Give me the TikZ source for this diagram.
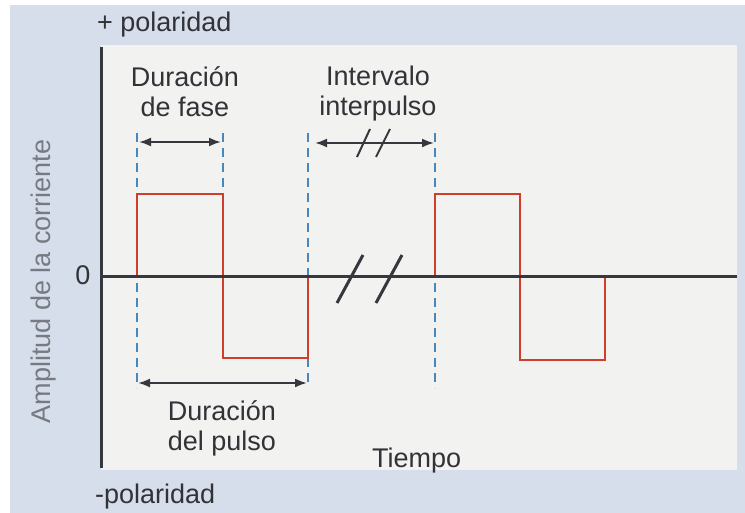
\documentclass[tikz,border=0pt]{standalone}
\usepackage{fontspec}
\setmainfont{Liberation Sans}
\usetikzlibrary{arrows.meta}
\definecolor{outerbg}{RGB}{214,222,235}
\definecolor{panelc}{RGB}{242,242,241}
\definecolor{axisc}{RGB}{55,55,62}
\definecolor{pulsec}{RGB}{205,62,45}
\definecolor{dashc}{RGB}{70,135,190}
\definecolor{txtc}{RGB}{50,50,55}
\definecolor{ylabc}{RGB}{120,122,130}
\begin{document}
\begin{tikzpicture}[x=1pt,y=-1pt,
  lbl/.style={font=\fontsize{27}{30}\selectfont, text=txtc, inner sep=0pt},
  axisline/.style={draw=axisc, line width=3pt},
  pulse/.style={draw=pulsec, line width=2.5pt, line join=miter},
  guide/.style={draw=dashc, line width=1.5pt, dash pattern=on 9pt off 6pt},
  dimarrow/.style={draw=axisc, line width=2pt, {Latex[length=12pt,width=9pt]}-{Latex[length=12pt,width=9pt]}},
  brk/.style={draw=axisc, line width=3pt},
  brksmall/.style={draw=axisc, line width=2pt}]
\useasboundingbox (0,0) rectangle (745,513);
\fill[white] (0,0) rectangle (745,513);
\fill[outerbg] (10,5) rectangle (745,513);
\fill[panelc] (101,45) rectangle (737,470);
% guide lines
\coordinate (g1t) at (137,133); \coordinate (g1b) at (137,388);
\coordinate (g2t) at (223,133); \coordinate (g2b) at (223,194);
\coordinate (g3t) at (308,133); \coordinate (g3b) at (308,385);
\coordinate (g4t) at (435,133); \coordinate (g4b) at (435,388);
\draw[guide] (g1t) -- (g1b);
\draw[guide] (g2t) -- (g2b);
\draw[guide] (g3t) -- (g3b);
\draw[guide] (g4t) -- (g4b);
% pulses
\draw[pulse] (137,277) -- (137,194) -- (223,194) -- (223,358) -- (308,358) -- (308,277);
\draw[pulse] (435,277) -- (435,194) -- (520,194) -- (520,360) -- (605,360) -- (605,277);
% axes
\coordinate (yt) at (101,47); \coordinate (yb) at (101,468);
\coordinate (xl) at (101,277); \coordinate (xr) at (737,277);
\draw[axisline] (yt) -- (yb);
\draw[axisline] (xl) -- (xr);
% axis break
\draw[brk] (363,255) -- (337,303);
\draw[brk] (402,255) -- (376,303);
% dimension arrows
\coordinate (fa) at (139,142); \coordinate (fb) at (221,142);
\draw[dimarrow] (fa) -- (fb);
\coordinate (ia) at (315,143); \coordinate (ib) at (434,143);
\draw[dimarrow] (ia) -- (ib);
\draw[brksmall] (370,129) -- (357,157);
\draw[brksmall] (390,129) -- (376,157);
\coordinate (pa) at (138,383); \coordinate (pb) at (307,383);
\draw[dimarrow] (pa) -- (pb);
% texts
\node[lbl, anchor=base west] (pospol) at (97,32) {+ polaridad};
\node[lbl, anchor=base west] (negpol) at (95,503) {-polaridad};
\node[lbl, anchor=base, align=center] (fase) at (185,117) {Duración\\de fase};
\node[lbl, anchor=base, align=center] (inter) at (378,116) {Intervalo\\interpulso};
\node[lbl, anchor=base, align=center] (pulso) at (222,450) {Duración\\del pulso};
\node[lbl, anchor=base west] (tiempo) at (372,467) {Tiempo};
\node[lbl, anchor=base] (zero) at (83,285) {0};
\node[lbl, anchor=base, rotate=90, text=ylabc] (ylabel) at (50,281.5) {Amplitud de la corriente};
\end{tikzpicture}
\end{document}
